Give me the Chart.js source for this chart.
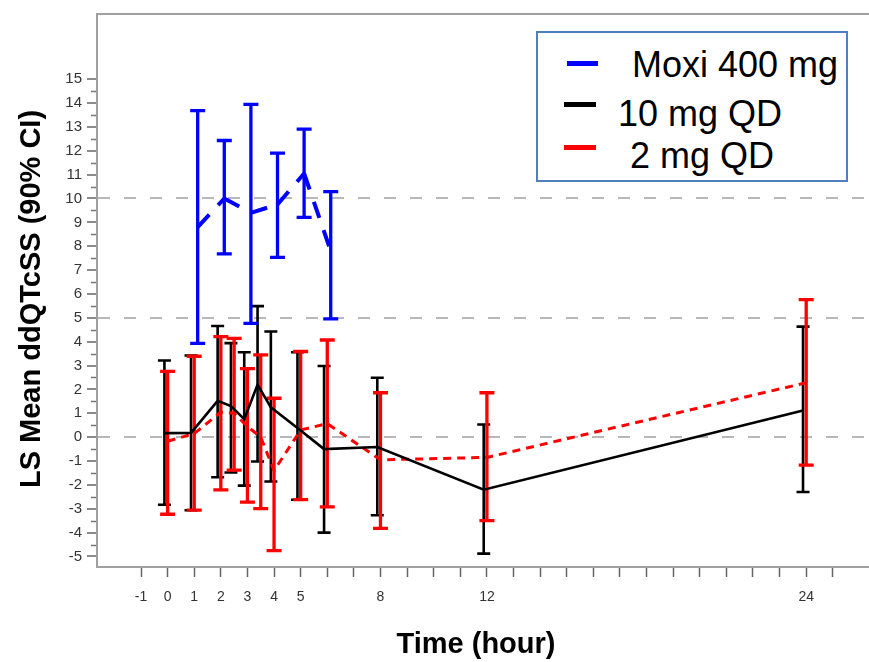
<!DOCTYPE html>
<html>
<head>
<meta charset="utf-8">
<title>LS Mean ddQTcSS</title>
<script src="https://cdn.jsdelivr.net/npm/chart.js@4.4.1/dist/chart.umd.min.js"></script>
<style>
  body { margin: 0; background: #fff; }
  #wrap { position: relative; width: 869px; height: 662px; }
  #legendBox { position: absolute; left: 536px; top: 31px; width: 308px; height: 147px; border: 2px solid #4f7fc0; background: #fff; }
  .mark { position: absolute; height: 5px; }
  .ltext { position: absolute; font-family: 'Liberation Sans', Arial, sans-serif; font-size: 36px; line-height: 36px; color: #000; white-space: nowrap; }
</style>
</head>
<body>
<div id="wrap">
  <canvas id="mycanvas" width="869" height="662"></canvas>
  <div id="legendBox"></div>
  <div class="mark" style="left:567px; top:61px; width:31px; background:#0000ff;"></div>
  <div class="ltext" style="left:632px; top:47px;">Moxi 400 mg</div>
  <div class="mark" style="left:564px; top:102px; width:32px; background:#000;"></div>
  <div class="ltext" style="left:618px; top:96px;">10 mg QD</div>
  <div class="mark" style="left:564px; top:145px; width:32px; background:#ff0000;"></div>
  <div class="ltext" style="left:630px; top:138px;">2 mg QD</div>
</div>
<script>
// values (hours, msec)
var moxiTimes = [1, 2, 3, 4, 5, 6];
var moxiMean  = [8.8, 10.0, 9.4, 9.75, 11.05, 7.8];
var moxiLow   = [3.93, 7.68, 4.77, 7.53, 9.21, 4.96];
var moxiHigh  = [13.68, 12.43, 13.94, 11.9, 12.91, 10.29];

var qd10Times = [0, 1, 2, 2.5, 3, 3.5, 4, 5, 6, 8, 12, 24];
var qd10Mean  = [0.17, 0.18, 1.52, 1.3, 0.75, 2.2, 1.25, 0.38, -0.5, -0.41, -2.2, 1.12];
var qd10Low   = [-2.83, -3.06, -1.68, -1.48, -2.03, -1.02, -1.86, -2.62, -4.0, -3.27, -4.88, -2.3];
var qd10High  = [3.21, 3.42, 4.66, 3.94, 3.56, 5.49, 4.43, 3.56, 2.98, 2.49, 0.53, 4.63];

var qd2Times = [0, 1, 2, 2.5, 3, 3.5, 4, 5, 6, 8, 12, 24];
var qd2Mean  = [-0.17, 0.15, 1.05, 1.0, 0.45, 0.0, -1.4, 0.3, 0.57, -0.95, -0.85, 2.28];
var qd2Low   = [-3.23, -3.06, -2.21, -1.38, -2.72, -2.99, -4.75, -2.62, -2.92, -3.82, -3.5, -1.17];
var qd2High  = [2.76, 3.39, 4.21, 4.14, 2.87, 3.45, 1.63, 3.59, 4.07, 1.86, 1.86, 5.76];

var xTicks = [];
for (var t = -1; t <= 25; t++) xTicks.push(t);
var xLabels = [-1, 0, 1, 2, 3, 4, 5, 8, 12, 24];
var yTicks = [];
for (var v = -10; v <= 30; v++) yTicks.push(v / 2);
var refLines = [0, 5, 10];

var xTitle = 'Time (hour)';
var yTitle = 'LS Mean ddQTcSS (90% CI)';

// small horizontal offsets so the groups don't sit on top of each other
var moxiShift = 0.13, qd10Shift = -0.12, qd2Shift = 0;

function points(times, vals, shift) {
  var out = [];
  for (var i = 0; i < times.length; i++) out.push({ x: times[i] + shift, y: vals[i] });
  return out;
}

var barSets = [
  { times: qd10Times, low: qd10Low, high: qd10High, shift: qd10Shift, color: '#000000', width: 2.6, cap: 13 },
  { times: qd2Times, low: qd2Low, high: qd2High, shift: qd2Shift, color: '#ff0000', width: 3.3, cap: 15 },
  { times: moxiTimes, low: moxiLow, high: moxiHigh, shift: moxiShift, color: '#0000ff', width: 3.3, cap: 15 }
];

var errorBars = {
  id: 'errorBars',
  beforeDatasetsDraw: function(chart) {
    var ctx = chart.ctx, xs = chart.scales.x, ys = chart.scales.y, a = chart.chartArea;
    ctx.save();
    // frame line along the top
    ctx.strokeStyle = '#a0a0a0';
    ctx.lineWidth = 2;
    ctx.beginPath();
    ctx.moveTo(a.left, a.top);
    ctx.lineTo(a.right, a.top);
    ctx.stroke();
    // short minor ticks on y
    ctx.strokeStyle = '#777';
    ctx.lineWidth = 1.5;
    yTicks.forEach(function(val) {
      if (Number.isInteger(val)) return;
      var y = Math.round(ys.getPixelForValue(val)) + 0.5;
      ctx.beginPath();
      ctx.moveTo(a.left - 6, y);
      ctx.lineTo(a.left - 1, y);
      ctx.stroke();
    });
    // 90% CI bars
    barSets.forEach(function(s) {
      ctx.strokeStyle = s.color;
      ctx.lineWidth = s.width;
      for (var i = 0; i < s.times.length; i++) {
        var x = xs.getPixelForValue(s.times[i] + s.shift);
        var y1 = ys.getPixelForValue(s.low[i]);
        var y2 = ys.getPixelForValue(s.high[i]);
        ctx.beginPath();
        ctx.moveTo(x, y1);
        ctx.lineTo(x, y2);
        ctx.moveTo(x - s.cap / 2, y1);
        ctx.lineTo(x + s.cap / 2, y1);
        ctx.moveTo(x - s.cap / 2, y2);
        ctx.lineTo(x + s.cap / 2, y2);
        ctx.stroke();
      }
    });
    ctx.restore();
  },
  afterDraw: function(chart) {
    // axis titles, placed a bit off-centre like the original
    var ctx = chart.ctx;
    ctx.save();
    ctx.fillStyle = '#000';
    ctx.font = "bold 29px 'Liberation Sans', Arial, sans-serif";
    ctx.textAlign = 'center';
    ctx.textBaseline = 'middle';
    ctx.fillText(xTitle, 476, 645);
    ctx.translate(32, 299);
    ctx.rotate(-Math.PI / 2);
    ctx.fillText(yTitle, 0, 0);
    ctx.restore();
  }
};

Chart.defaults.font.family = "'Liberation Sans', Arial, sans-serif";

var ctx = document.getElementById('mycanvas');
var chart = new Chart(ctx, {
  type: 'line',
  data: {
    datasets: [
      {
        label: 'Moxi 400 mg',
        data: points(moxiTimes, moxiMean, moxiShift),
        borderColor: '#0000ff',
        borderWidth: 4,
        borderDash: [17, 13],
        pointRadius: 0,
        segment: { borderDashOffset: function(c) { return c.p0DataIndex * 0.001; } }
      },
      {
        label: '10 mg QD',
        data: points(qd10Times, qd10Mean, qd10Shift),
        borderColor: '#000000',
        borderWidth: 2.6,
        pointRadius: 0
      },
      {
        label: '2 mg QD',
        data: points(qd2Times, qd2Mean, qd2Shift),
        borderColor: '#ff0000',
        borderWidth: 3,
        borderDash: [8, 6],
        pointRadius: 0
      }
    ]
  },
  options: {
    responsive: false,
    animation: false,
    layout: { padding: { top: 7, right: 0, bottom: 0, left: 0 } },
    plugins: { legend: { display: false }, tooltip: { enabled: false } },
    scales: {
      x: {
        type: 'linear',
        min: -2.654,
        max: 26.36,
        afterBuildTicks: function(s) { s.ticks = xTicks.map(function(v) { return { value: v }; }); },
        afterFit: function(s) { s.height = 95; },
        ticks: {
          autoSkip: false,
          maxRotation: 0,
          padding: 12,
          color: '#333',
          font: { size: 14 },
          callback: function(v) { return xLabels.indexOf(v) >= 0 ? String(v) : ''; }
        },
        grid: { drawOnChartArea: false, tickLength: 10, tickColor: '#666', tickWidth: 1.5 },
        border: { color: '#a0a0a0', width: 2 }
      },
      y: {
        type: 'linear',
        min: -5.44,
        max: 17.73,
        afterBuildTicks: function(s) { s.ticks = yTicks.map(function(v) { return { value: v }; }); },
        afterFit: function(s) { s.width = 97; },
        ticks: {
          autoSkip: false,
          padding: 5,
          color: '#333',
          font: { size: 15 },
          callback: function(v) { return Number.isInteger(v) ? String(v) : ''; }
        },
        grid: {
          color: function(c) { return refLines.indexOf(c.tick.value) >= 0 ? '#b8b8b8' : 'rgba(0,0,0,0)'; },
          lineWidth: 2,
          tickLength: 10,
          tickWidth: 1.5,
          tickColor: function(c) { return Number.isInteger(c.tick.value) ? '#666' : 'rgba(0,0,0,0)'; }
        },
        border: { color: '#a0a0a0', width: 2, dash: [12, 14] }
      }
    }
  },
  plugins: [errorBars]
});
</script>
</body>
</html>
